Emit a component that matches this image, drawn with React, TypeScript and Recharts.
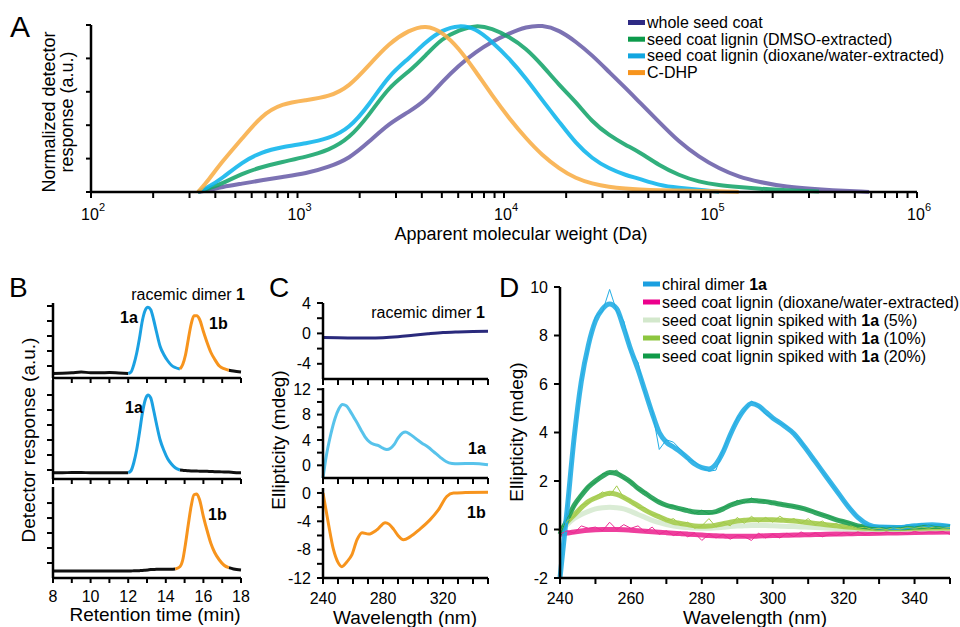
import React from "react";
import { LineChart, Line, XAxis, YAxis } from "recharts";

const FONT = '"Liberation Sans", Arial, Helvetica, sans-serif';
const W = 960;
const H = 627;
const YW = 50;
const XH = 40;

// ---- A: apparent molecular weight distributions (normalized) ----
const mwDa = [330, 370, 430, 540, 670, 840, 1100, 1420, 1780, 2220, 2770, 3470, 4190, 5010, 6060, 7310, 8740, 10600, 12800, 15300, 18500, 22300, 26700, 32200, 39000, 45100, 56300, 70300, 87900, 110000, 137000, 172000, 232000, 335000, 586000];
const wholeSeedCoat = [0, 0.01, 0.03, 0.05, 0.07, 0.09, 0.11, 0.15, 0.2, 0.3, 0.41, 0.48, 0.55, 0.66, 0.76, 0.84, 0.9, 0.95, 0.99, 1.0, 0.97, 0.9, 0.82, 0.72, 0.62, 0.54, 0.42, 0.3, 0.21, 0.14, 0.09, 0.06, 0.03, 0.015, 0];
const dmsoLignin = [0, 0.02, 0.05, 0.11, 0.15, 0.18, 0.21, 0.25, 0.32, 0.46, 0.63, 0.72, 0.82, 0.92, 0.97, 1.0, 0.98, 0.93, 0.86, 0.76, 0.64, 0.54, 0.42, 0.34, 0.28, 0.24, 0.16, 0.1, 0.06, 0.04, 0.03, 0.02, 0.01, 0.003, null];
const dioxaneLignin = [0, 0.03, 0.08, 0.18, 0.24, 0.27, 0.29, 0.32, 0.38, 0.52, 0.7, 0.8, 0.9, 0.97, 1.0, 0.98, 0.9, 0.8, 0.68, 0.55, 0.42, 0.29, 0.2, 0.14, 0.1, 0.08, 0.04, 0.025, 0.015, 0, null, null, null, null, null];
const cDhp = [0, 0.07, 0.18, 0.32, 0.46, 0.53, 0.55, 0.57, 0.63, 0.76, 0.89, 0.97, 1.0, 0.96, 0.86, 0.72, 0.58, 0.44, 0.32, 0.22, 0.14, 0.08, 0.05, 0.03, 0.02, 0.015, 0.01, 0.01, 0.005, 0.005, 0, null, null, null, null];
const decades = [100, 1000, 10000, 100000, 1000000];
const minorSteps = [1, 2, 3, 4, 5, 6, 7, 8, 9];
const legendNamesA = ["whole seed coat", "seed coat lignin (DMSO-extracted)", "seed coat lignin (dioxane/water-extracted)", "C-DHP"];
const legendColorsA = ["#2e2a84", "#0c9a4b", "#12a6e0", "#f7941d"];
const lineColorsA = ["#6a5ea9", "#14a46a", "#0db4ec", "#f8ad45"];

// ---- B: chiral HPLC traces ----
const retentionMin = [8, 8.5, 9, 9.5, 10, 10.5, 11, 11.5, 12, 12.15, 12.3, 12.45, 12.6, 12.75, 12.9, 13.05, 13.2, 13.35, 13.5, 13.7, 13.9, 14.1, 14.3, 14.5, 14.75, 14.9, 15.05, 15.2, 15.35, 15.5, 15.65, 15.8, 16, 16.2, 16.4, 16.6, 16.85, 17.1, 17.35, 17.6, 18];
const racemicTrace = [0.5, 0.52, 0.55, 0.6, 0.55, 0.55, 0.56, 0.53, 0.5, 0.6, 1.1, 1.85, 2.85, 4.0, 4.7, 4.92, 4.75, 4.1, 3.3, 2.3, 1.75, 1.35, 1.05, 0.9, 0.8, 1.1, 1.75, 2.8, 3.8, 4.35, 4.35, 4.1, 3.3, 2.55, 1.9, 1.45, 1.0, 0.82, 0.72, 0.66, 0.6];
const trace1a = [0.82, 0.82, 0.83, 0.83, 0.82, 0.82, 0.82, 0.82, 0.82, 0.95, 1.5, 2.35, 3.5, 4.75, 5.65, 6.0, 5.8, 5.0, 4.1, 3.0, 2.3, 1.75, 1.4, 1.15, 1.0, 0.98, 0.96, 0.95, 0.94, 0.93, 0.93, 0.92, 0.92, 0.91, 0.9, 0.89, 0.88, 0.87, 0.86, 0.84, 0.82];
const trace1b = [0.47, 0.47, 0.47, 0.47, 0.47, 0.47, 0.47, 0.47, 0.47, 0.47, 0.48, 0.48, 0.49, 0.5, 0.52, 0.54, 0.56, 0.57, 0.58, 0.58, 0.58, 0.58, 0.58, 0.6, 0.75, 1.2, 2.3, 3.6, 4.8, 5.55, 5.6, 5.2, 4.1, 3.15, 2.3, 1.7, 1.2, 0.85, 0.69, 0.6, 0.53];
const retentionTicks = [8, 9, 10, 11, 12, 13, 14, 15, 16, 17, 18];

// ---- C: CD spectra of racemate and isolated enantiomers ----
const wlRacemic = [240, 250, 260, 270, 280, 290, 300, 310, 320, 330, 340, 350];
const cdRacemic = [-0.55, -0.58, -0.6, -0.62, -0.58, -0.45, -0.25, -0.05, 0.12, 0.2, 0.25, 0.28];
const wl1a = [240, 242, 245, 248, 250.5, 253, 255.5, 258, 260.5, 263, 265.5, 268, 271, 274, 277, 280, 282.5, 285, 287.5, 290, 293, 295, 298, 302, 306, 310, 314, 318, 322, 326, 330, 340, 350];
const cd1a = [-2, 1.2, 4.7, 7.4, 8.9, 9.6, 9.4, 8.6, 7.6, 6.6, 5.5, 4.5, 3.7, 3.3, 3.1, 2.7, 2.5, 2.7, 3.3, 4.3, 5.1, 5.25, 4.9, 4.2, 3.5, 2.9, 2.1, 1.3, 0.6, 0.3, 0.25, 0.3, 0.1];
const wl1b = [240, 243.5, 247, 250, 252.6, 256, 259.3, 262.7, 266, 270.4, 276, 281.5, 284, 287, 290, 293.7, 298, 304.6, 311.3, 316.9, 322.5, 327, 335, 350];
const cd1b = [0, -4.2, -8.0, -9.8, -10.4, -9.7, -8.7, -6.6, -5.6, -5.8, -5.2, -4.2, -4.4, -5.1, -6.0, -6.6, -6.2, -5.1, -3.8, -2.4, -0.5, 0.0, 0.05, 0.1];
const wlTicks = [240, 250, 260, 270, 280, 290, 300, 310, 320, 330, 340, 350];

// ---- D: CD of lignin spiked with 1a (smoothed) ----
const wlD = [240, 242, 244, 246, 248, 250, 252, 254, 256, 258, 260, 262, 264, 266, 268, 270, 272, 274, 276, 278, 280, 282, 284, 286, 288, 290, 292, 294, 296, 298, 300, 303, 306, 309, 312, 315, 318, 321, 324, 327, 330, 335, 340, 345, 350];
const dimer1a = [-2.0, 0.8, 3.8, 6.1, 7.6, 8.6, 9.1, 9.3, 9.1, 8.3, 7.4, 6.6, 5.7, 4.8, 4.0, 3.6, 3.4, 3.2, 2.95, 2.7, 2.55, 2.5, 2.7, 3.2, 3.9, 4.5, 4.95, 5.2, 5.1, 4.85, 4.6, 4.3, 3.95, 3.4, 2.8, 2.2, 1.6, 1.0, 0.5, 0.2, 0.1, 0.08, 0.15, 0.2, 0.12];
const ligninOnly = [-0.2, -0.15, -0.1, -0.06, -0.03, -0.01, 0, 0, 0, -0.01, -0.03, -0.05, -0.07, -0.09, -0.11, -0.13, -0.15, -0.17, -0.19, -0.21, -0.23, -0.25, -0.26, -0.27, -0.28, -0.28, -0.28, -0.28, -0.27, -0.26, -0.25, -0.24, -0.23, -0.22, -0.21, -0.2, -0.19, -0.18, -0.17, -0.16, -0.15, -0.14, -0.12, -0.11, -0.1];
const spiked5 = [-0.1, 0.2, 0.45, 0.62, 0.75, 0.85, 0.9, 0.92, 0.9, 0.85, 0.75, 0.62, 0.5, 0.38, 0.28, 0.2, 0.14, 0.1, 0.08, 0.06, 0.05, 0.05, 0.07, 0.09, 0.12, 0.14, 0.15, 0.16, 0.16, 0.16, 0.15, 0.13, 0.12, 0.1, 0.08, 0.06, 0.04, 0.02, 0.01, 0, 0, 0, 0.02, 0.03, 0.03];
const spiked10 = [-0.1, 0.3, 0.6, 0.9, 1.15, 1.3, 1.42, 1.5, 1.45, 1.32, 1.15, 0.98, 0.8, 0.65, 0.52, 0.4, 0.3, 0.25, 0.2, 0.15, 0.13, 0.14, 0.18, 0.24, 0.3, 0.35, 0.38, 0.4, 0.4, 0.4, 0.4, 0.38, 0.35, 0.3, 0.25, 0.2, 0.15, 0.1, 0.07, 0.05, 0.03, 0.03, 0.05, 0.06, 0.06];
const spiked20 = [-0.2, 0.4, 1.0, 1.4, 1.75, 2.0, 2.2, 2.35, 2.3, 2.15, 1.95, 1.7, 1.5, 1.3, 1.12, 1.0, 0.92, 0.85, 0.78, 0.72, 0.7, 0.7, 0.74, 0.85, 1.0, 1.1, 1.17, 1.2, 1.18, 1.15, 1.1, 1.02, 0.95, 0.85, 0.7, 0.55, 0.4, 0.28, 0.15, 0.1, 0.07, 0.07, 0.1, 0.12, 0.12];

// ---- D: raw (unsmoothed) spectra, 2 nm steps ----
const wlRaw = [240, 242, 244, 246, 248, 250, 252, 254, 256, 258, 260, 262, 264, 266, 268, 270, 272, 274, 276, 278, 280, 282, 284, 286, 288, 290, 292, 294, 296, 298, 300, 302, 304, 306, 308, 310, 312, 314, 316, 318, 320, 322, 324, 326, 328, 330, 332, 334, 336, 338, 340, 342, 344, 346, 348, 350];
const dimer1aRaw = [-2.0, 0.9, 3.7, 6.2, 7.5, 8.8, 9.0, 9.9, 9.0, 8.6, 7.3, 6.9, 5.6, 4.9, 3.3, 3.7, 3.6, 3.3, 2.9, 2.8, 2.55, 2.4, 2.45, 3.3, 3.9, 4.6, 4.9, 5.3, 5.1, 4.75, 4.6, 4.4, 4.25, 3.95, 3.65, 3.2, 2.85, 2.4, 2.0, 1.6, 1.2, 0.85, 0.5, 0.25, 0.15, 0.1, 0.15, 0.1, 0.12, 0.2, 0.15, 0.25, 0.2, 0.18, 0.15, 0.12];
const ligninOnlyRaw = [-0.2, -0.05, -0.15, 0.15, 0.05, 0.1, -0.05, 0.3, 0.0, 0.2, 0.05, 0.15, -0.1, 0.1, -0.2, -0.05, -0.25, -0.1, -0.3, -0.15, -0.45, -0.2, -0.35, -0.2, -0.4, -0.25, -0.3, -0.45, -0.15, -0.35, -0.2, -0.35, -0.15, -0.3, -0.1, -0.25, -0.15, -0.3, -0.2, -0.25, -0.12, -0.22, -0.1, -0.2, -0.12, -0.18, -0.1, -0.15, -0.12, -0.18, -0.08, -0.15, -0.1, -0.12, -0.08, -0.2];
const spiked10Raw = [-0.1, 0.35, 0.55, 1.0, 1.1, 1.35, 1.55, 1.4, 1.8, 1.3, 1.2, 0.9, 0.9, 0.6, 0.6, 0.35, 0.45, 0.2, 0.3, 0.05, 0.15, 0.45, 0.1, 0.3, 0.15, 0.5, 0.25, 0.55, 0.3, 0.5, 0.3, 0.55, 0.35, 0.45, 0.25, 0.45, 0.2, 0.35, 0.15, 0.25, 0.05, 0.15, 0.05, 0.1, 0.0, 0.05, 0.0, 0.08, 0.02, 0.1, 0.05, 0.1, 0.05, 0.12, 0.05, 0.08];
const spiked20Raw = [-0.2, 0.45, 0.95, 1.45, 1.8, 1.95, 2.3, 2.3, 2.45, 2.1, 2.0, 1.65, 1.55, 1.25, 1.15, 0.95, 0.98, 0.82, 0.85, 0.65, 0.8, 0.65, 0.7, 0.9, 1.0, 1.2, 1.1, 1.3, 1.15, 1.2, 1.1, 1.05, 1.0, 0.95, 0.9, 0.8, 0.75, 0.6, 0.55, 0.4, 0.35, 0.25, 0.15, 0.12, 0.08, 0.1, 0.05, 0.1, 0.08, 0.12, 0.1, 0.15, 0.2, 0.12, 0.1, 0.15];
const ellipTicksD = [-2, 0, 2, 4, 6, 8, 10];
const legendD = [
  { pre: "chiral dimer ", bold: "1a", post: "", color: "#1b9fe0" },
  { pre: "seed coat lignin (dioxane/water-extracted)", bold: "", post: "", color: "#ec008c" },
  { pre: "seed coat lignin spiked with ", bold: "1a", post: " (5%)", color: "#d3e8cc" },
  { pre: "seed coat lignin spiked with ", bold: "1a", post: " (10%)", color: "#8dc63f" },
  { pre: "seed coat lignin spiked with ", bold: "1a", post: " (20%)", color: "#0f9a48" },
];

type Box = { x0: number; x1: number; y0: number; y1: number };

function margins(b: Box) {
  return { left: b.x0 - YW, right: W - b.x1, top: b.y0, bottom: H - b.y1 - XH };
}

const layer: React.CSSProperties = { position: "absolute", left: 0, top: 0 };
const axisLine = { stroke: "#000", strokeWidth: 2.5 };
const tickLine = { stroke: "#000", strokeWidth: 2 };
const tickFont = { fill: "#000", fontSize: 16, fontFamily: FONT };
const blank = () => "";

function LogTick(props: any) {
  const { x, y, payload } = props;
  const v = payload.value;
  const exp = Math.round(Math.log10(v));
  if (Math.abs(v / Math.pow(10, exp) - 1) > 1e-6) return <g />;
  return (
    <g>
      <text x={x - 1} y={y + 18} textAnchor="middle" fontSize={16} fontFamily={FONT} fill="#000">10</text>
      <text x={x + 8} y={y + 9} fontSize={11} fontFamily={FONT} fill="#000">{exp}</text>
    </g>
  );
}

function PanelA() {
  const box = { x0: 91, x1: 917, y0: 25, y1: 192 };
  const rows = mwDa.map((mw, i) => ({
    mw,
    whole: wholeSeedCoat[i],
    dmso: dmsoLignin[i],
    dioxane: dioxaneLignin[i],
    dhp: cDhp[i],
  }));
  const ticks = decades.flatMap((d) => (d === 1000000 ? [d] : minorSteps.map((m) => m * d)));
  const keys = ["whole", "dmso", "dioxane", "dhp"];
  return (
    <div style={layer}>
      <LineChart width={W} height={H} data={rows} margin={margins(box)}>
        <XAxis type="number" dataKey="mw" scale="log" domain={[100, 1000000]} ticks={ticks} interval={0}
          axisLine={axisLine} tickLine={tickLine} tickSize={6} tickMargin={4} height={XH} tick={(p: any) => <LogTick {...p} />} />
        <YAxis type="number" domain={[0, 1]} ticks={[0, 0.2, 0.4, 0.6, 0.8, 1]} interval={0} width={YW}
          axisLine={axisLine} tickLine={tickLine} tickSize={5} tickFormatter={blank} />
        {keys.map((k, i) => (
          <Line key={k} type="basis" dataKey={k} stroke={lineColorsA[i]} strokeOpacity={0.88} strokeWidth={4}
            dot={false} activeDot={false} isAnimationActive={false} />
        ))}
      </LineChart>
    </div>
  );
}

type Win = { from: number; to: number; color: string };

function Chromatogram({ box, domain, yTicks, values, windows, labels }: {
  box: Box; domain: number[]; yTicks: number[]; values: number[]; windows: Win[]; labels: boolean;
}) {
  const rows = retentionMin.map((t, i) => {
    const v = values[i];
    const row: any = { t, base: windows.some((w) => t > w.from && t < w.to) ? null : v };
    windows.forEach((w, k) => {
      row["w" + k] = t >= w.from && t <= w.to ? v : null;
    });
    return row;
  });
  return (
    <div style={layer}>
      <LineChart width={W} height={H} data={rows} margin={margins(box)}>
        <XAxis type="number" dataKey="t" domain={[8, 18]} ticks={retentionTicks} interval={0} height={XH}
          axisLine={axisLine} tickLine={tickLine} tickSize={5} tickMargin={8} tick={tickFont}
          tickFormatter={(v: number) => (labels && v % 2 === 0 ? String(v) : "")} />
        <YAxis type="number" domain={domain} ticks={yTicks} interval={0} width={YW}
          axisLine={axisLine} tickLine={tickLine} tickSize={6} tickFormatter={blank} />
        <Line type="monotone" dataKey="base" stroke="#111" strokeWidth={3} dot={false} activeDot={false} isAnimationActive={false} />
        {windows.map((w, k) => (
          <Line key={k} type="monotone" dataKey={"w" + k} stroke={w.color} strokeWidth={3} dot={false} activeDot={false} isAnimationActive={false} />
        ))}
      </LineChart>
    </div>
  );
}

function CdTrace({ box, domain, yTicks, wl, vals, color, labels }: {
  box: Box; domain: number[]; yTicks: number[]; wl: number[]; vals: number[]; color: string; labels: boolean;
}) {
  const rows = wl.map((w, i) => ({ w, v: vals[i] }));
  return (
    <div style={layer}>
      <LineChart width={W} height={H} data={rows} margin={margins(box)}>
        <XAxis type="number" dataKey="w" domain={[240, 350]} ticks={wlTicks} interval={0} height={XH}
          axisLine={axisLine} tickLine={tickLine} tickSize={6} tickMargin={9} tick={tickFont}
          tickFormatter={(v: number) => (labels && (v - 240) % 40 === 0 ? String(v) : "")} />
        <YAxis type="number" domain={domain} ticks={yTicks} interval={0} width={YW}
          axisLine={axisLine} tickLine={tickLine} tickSize={6} tickMargin={6} tick={tickFont}
          tickFormatter={(v: number) => (v % 4 === 0 ? String(v) : "")} />
        <Line type="monotone" dataKey="v" stroke={color} strokeWidth={3} dot={false} activeDot={false} isAnimationActive={false} />
      </LineChart>
    </div>
  );
}

function PanelD() {
  const box = { x0: 560, x1: 950, y0: 287, y1: 578 };
  const rows = wlD.map((w, i) => ({
    w,
    lignin: ligninOnly[i],
    s5: spiked5[i],
    s10: spiked10[i],
    s20: spiked20[i],
    dimer: dimer1a[i],
  }));
  const raw = wlRaw.map((w, i) => ({
    w,
    lignin: ligninOnlyRaw[i],
    s10: spiked10Raw[i],
    s20: spiked20Raw[i],
    dimer: dimer1aRaw[i],
  }));
  const smooth = [
    { k: "lignin", c: "#ec2a92" },
    { k: "s5", c: "#d6ead0" },
    { k: "s10", c: "#a3cb4a" },
    { k: "s20", c: "#1f9f52" },
    { k: "dimer", c: "#22ade4" },
  ];
  return (
    <div style={layer}>
      <LineChart width={W} height={H} data={rows} margin={margins(box)}>
        <XAxis type="number" dataKey="w" domain={[240, 350]} ticks={wlTicks} interval={0} height={XH}
          axisLine={axisLine} tickLine={tickLine} tickSize={6} tickMargin={9} tick={tickFont}
          tickFormatter={(v: number) => ((v - 240) % 20 === 0 ? String(v) : "")} />
        <YAxis type="number" domain={[-2, 10]} ticks={ellipTicksD} interval={0} width={YW}
          axisLine={axisLine} tickLine={tickLine} tickSize={6} tickMargin={6} tick={tickFont} />
        {smooth.map((s) => (
          <Line key={s.k} type="monotone" dataKey={s.k} stroke={s.c} strokeOpacity={0.9} strokeWidth={5}
            dot={false} activeDot={false} isAnimationActive={false} />
        ))}
        {smooth.filter((s) => s.k !== "s5").map((s) => (
          <Line key={"raw-" + s.k} data={raw} type="linear" dataKey={s.k} stroke={s.c} strokeWidth={1}
            dot={false} activeDot={false} isAnimationActive={false} />
        ))}
      </LineChart>
    </div>
  );
}

function Overlay() {
  const t = { fontFamily: FONT, fill: "#000" };
  return (
    <svg width={W} height={H} style={{ ...layer, pointerEvents: "none" }}>
      <text x={10} y={37} fontSize={30} {...t}>A</text>
      <text x={9} y={297} fontSize={28} {...t}>B</text>
      <text x={269} y={297} fontSize={28} {...t}>C</text>
      <text x={499} y={297} fontSize={28} {...t}>D</text>

      <text x={521} y={240} fontSize={18} textAnchor="middle" {...t}>Apparent molecular weight (Da)</text>
      <text transform="translate(55,112) rotate(-90)" fontSize={18} textAnchor="middle" {...t}>Normalized detector</text>
      <text transform="translate(73,112) rotate(-90)" fontSize={18} textAnchor="middle" {...t}>response (a.u.)</text>

      {legendNamesA.map((n, i) => (
        <g key={n}>
          <rect x={628} y={20 + i * 16.7} width={17} height={5} fill={legendColorsA[i]} />
          <text x={647} y={28 + i * 16.7} fontSize={16} {...t}>{n}</text>
        </g>
      ))}

      <text x={155} y={621} fontSize={19} textAnchor="middle" {...t}>Retention time (min)</text>
      <text transform="translate(35,440) rotate(-90)" fontSize={19} textAnchor="middle" {...t}>Detector response (a.u.)</text>
      <text x={245} y={300} fontSize={16} textAnchor="end" {...t}>racemic dimer <tspan fontWeight="bold">1</tspan></text>
      <text x={120} y={323} fontSize={16} fontWeight="bold" {...t}>1a</text>
      <text x={209} y={329} fontSize={16} fontWeight="bold" {...t}>1b</text>
      <text x={125} y={413} fontSize={16} fontWeight="bold" {...t}>1a</text>
      <text x={208} y={520} fontSize={16} fontWeight="bold" {...t}>1b</text>

      <text x={405} y={624} fontSize={19} textAnchor="middle" {...t}>Wavelength (nm)</text>
      <text transform="translate(285,440) rotate(-90)" fontSize={19} textAnchor="middle" {...t}>Ellipticity (mdeg)</text>
      <text x={485} y={318} fontSize={16} textAnchor="end" {...t}>racemic dimer <tspan fontWeight="bold">1</tspan></text>
      <text x={468} y={454} fontSize={16} fontWeight="bold" {...t}>1a</text>
      <text x={467} y={518} fontSize={16} fontWeight="bold" {...t}>1b</text>

      <text x={755} y={624} fontSize={19} textAnchor="middle" {...t}>Wavelength (nm)</text>
      <text transform="translate(523,432) rotate(-90)" fontSize={19} textAnchor="middle" {...t}>Ellipticity (mdeg)</text>
      {legendD.map((e, i) => (
        <g key={i}>
          <rect x={643} y={281.5 + i * 18} width={17} height={5} fill={e.color} />
          <text x={662} y={289.5 + i * 18} fontSize={16} {...t}>
            {e.pre}
            {e.bold && <tspan fontWeight="bold">{e.bold}</tspan>}
            {e.post}
          </text>
        </g>
      ))}
    </svg>
  );
}

export default function App() {
  return (
    <div style={{ position: "absolute", left: 0, top: 0, width: W, height: H, background: "#fff" }}>
      <PanelA />
      <Chromatogram box={{ x0: 53, x1: 241, y0: 303, y1: 378 }} domain={[0.2, 5.2]} yTicks={[1, 2, 3, 4, 5]}
        values={racemicTrace} labels={false}
        windows={[{ from: 12, to: 14.75, color: "#1ba1e2" }, { from: 14.75, to: 17.35, color: "#f7941d" }]} />
      <Chromatogram box={{ x0: 53, x1: 241, y0: 380, y1: 479 }} domain={[0.4, 7]} yTicks={[1, 2, 3, 4, 5, 6]}
        values={trace1a} labels={false} windows={[{ from: 12, to: 14.75, color: "#1ba1e2" }]} />
      <Chromatogram box={{ x0: 53, x1: 241, y0: 487, y1: 578 }} domain={[0, 6.07]} yTicks={[1, 2, 3, 4, 5]}
        values={trace1b} labels={true} windows={[{ from: 14.5, to: 17.35, color: "#f7941d" }]} />
      <CdTrace box={{ x0: 323, x1: 488, y0: 303, y1: 379 }} domain={[-6, 4]} yTicks={[-4, -2, 0, 2, 4]}
        wl={wlRacemic} vals={cdRacemic} color="#2a2a7c" labels={false} />
      <CdTrace box={{ x0: 323, x1: 488, y0: 388, y1: 478 }} domain={[-2, 12.2]} yTicks={[0, 2, 4, 6, 8, 10, 12]}
        wl={wl1a} vals={cd1a} color="#58c3eb" labels={false} />
      <CdTrace box={{ x0: 323, x1: 488, y0: 488, y1: 578 }} domain={[-12, 0.7]} yTicks={[-12, -10, -8, -6, -4, -2, 0]}
        wl={wl1b} vals={cd1b} color="#f7941d" labels={true} />
      <PanelD />
      <Overlay />
    </div>
  );
}
